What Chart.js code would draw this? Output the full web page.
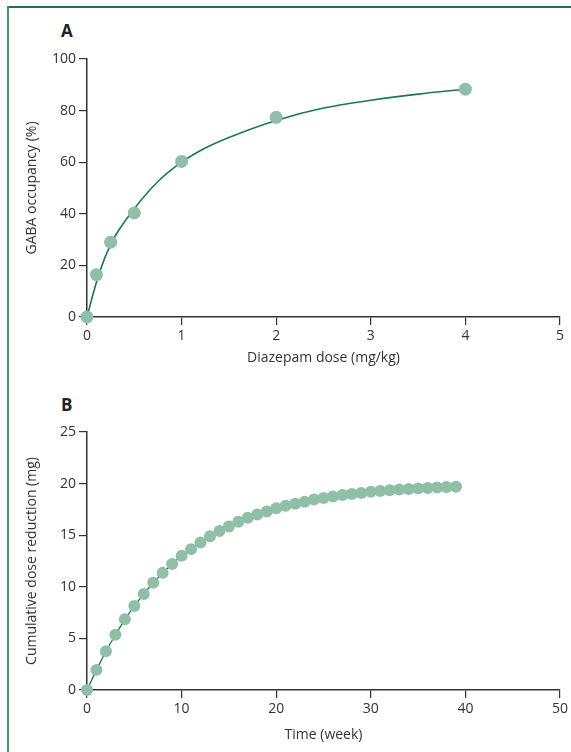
<!DOCTYPE html>
<html>
<head>
<meta charset="utf-8">
<script src="https://cdn.jsdelivr.net/npm/chart.js@4"></script>
<style>
  body { margin: 0; background: #fff; }
  #wrap { position: relative; width: 571px; height: 752px; overflow: hidden; }
  .frame-top { position: absolute; left: 8px; top: 6px; width: 563px; height: 2px; background: #24704a; }
  .frame-left { position: absolute; left: 7px; top: 6px; width: 2px; height: 746px; background: #3c9a62; }
  .panel { position: absolute; font: bold 17px "Open Sans", sans-serif; color: #222; }
  canvas { position: absolute; left: 0; }
</style>
</head>
<body>
<div id="wrap">
  <div class="frame-top"></div>
  <div class="frame-left"></div>
  <div class="panel" style="left:61px; top:19px;">A</div>
  <div class="panel" style="left:61px; top:393px;">B</div>
  <canvas id="graficoA" width="571" height="375" style="top:0"></canvas>
  <canvas id="graficoB" width="571" height="377" style="top:375px"></canvas>
</div>
<script>
// painel A - ocupação GABA x dose
const doseA = [0, 0.1, 0.25, 0.5, 1, 2, 4];
const ocupacaoA = [0, 16.4, 29, 40.3, 60.3, 77.4, 88.3];
const doseCurva = [0, 0.05, 0.1, 0.2, 0.3, 0.5, 0.75, 1, 1.25, 1.5, 2, 2.5, 3, 3.5, 4];
const ocupacaoCurva = [0, 7, 13.5, 24, 31.5, 42, 52.5, 60, 65.5, 69.6, 76.2, 81, 84, 86.4, 88.3];
const ticksXA = [0, 1, 2, 3, 4, 5];
const ticksYA = [0, 20, 40, 60, 80, 100];

// painel B - redução cumulativa por semana
const semanas = [0, 1, 2, 3, 4, 5, 6, 7, 8, 9,
  10, 11, 12, 13, 14, 15, 16, 17, 18, 19,
  20, 21, 22, 23, 24, 25, 26, 27, 28, 29,
  30, 31, 32, 33, 34, 35, 36, 37, 38, 39];
const reducao = [0, 1.95, 3.75, 5.35, 6.85, 8.15, 9.3, 10.4, 11.35, 12.2,
  13.0, 13.65, 14.3, 14.9, 15.4, 15.85, 16.3, 16.7, 17.0, 17.3,
  17.6, 17.85, 18.05, 18.25, 18.45, 18.6, 18.75, 18.9, 19.0, 19.1,
  19.2, 19.28, 19.35, 19.42, 19.48, 19.53, 19.58, 19.62, 19.66, 19.7];
const ticksXB = [0, 10, 20, 30, 40, 50];
const ticksYB = [0, 5, 10, 15, 20, 25];

const corPonto = 'rgb(143, 191, 166)';
const corLinha = '#1b7a4b';
const corEixo = '#333333';
const fonte = { family: '"Open Sans", sans-serif', size: 14 };

function eixo(ticks, titulo, vertical, largura) {
    return {
        type: 'linear',
        min: ticks[0],
        max: ticks[ticks.length - 1],
        afterBuildTicks: s => { s.ticks = ticks.map(v => ({ value: v })); },
        afterFit: s => { if (vertical) s.width = largura; else s.height = largura; },
        border: { display: true, color: corEixo, width: 1.5 },
        grid: { display: true, drawOnChartArea: false, drawTicks: true, tickLength: 8, color: corEixo, lineWidth: 1.2 },
        ticks: { color: corEixo, font: fonte, padding: 3, maxRotation: 0 },
        title: {
            display: true, text: titulo, color: corEixo, font: fonte,
            padding: vertical ? { top: 24, bottom: 0 } : { top: 0, bottom: 9 }
        }
    };
}

function opcoes(tx, ty, tituloX, tituloY, alturaX, topo) {
    return {
        responsive: false,
        animation: false,
        layout: { padding: { left: 0, right: 11, top: topo, bottom: 0 } },
        scales: {
            x: eixo(tx, tituloX, false, alturaX),
            y: eixo(ty, tituloY, true, 87)
        },
        plugins: { legend: { display: false }, tooltip: { enabled: false } }
    };
}

new Chart(document.getElementById('graficoA').getContext('2d'), {
    type: 'scatter',
    data: {
        datasets: [{
            data: doseA.map((x, i) => ({ x: x, y: ocupacaoA[i] })),
            backgroundColor: corPonto,
            borderWidth: 0,
            pointRadius: 6.5,
            clip: false,
            order: 1
        }, {
            data: doseCurva.map((x, i) => ({ x: x, y: ocupacaoCurva[i] })),
            showLine: true,
            cubicInterpolationMode: 'monotone',
            borderColor: corLinha,
            borderWidth: 1.6,
            pointRadius: 0,
            clip: false,
            order: 2
        }]
    },
    options: opcoes(ticksXA, ticksYA, 'Diazepam dose (mg/kg)', 'GABA occupancy (%)', 58, 59)
});

new Chart(document.getElementById('graficoB').getContext('2d'), {
    type: 'scatter',
    data: {
        datasets: [{
            data: semanas.map((x, i) => ({ x: x, y: reducao[i] })),
            showLine: true,
            borderColor: corLinha,
            borderWidth: 1.3,
            backgroundColor: corPonto,
            pointBorderWidth: 0,
            pointRadius: 6,
            clip: false
        }]
    },
    options: opcoes(ticksXB, ticksYB, 'Time (week)', 'Cumulative dose reduction (mg)', 62, 57)
});
</script>
</body>
</html>
